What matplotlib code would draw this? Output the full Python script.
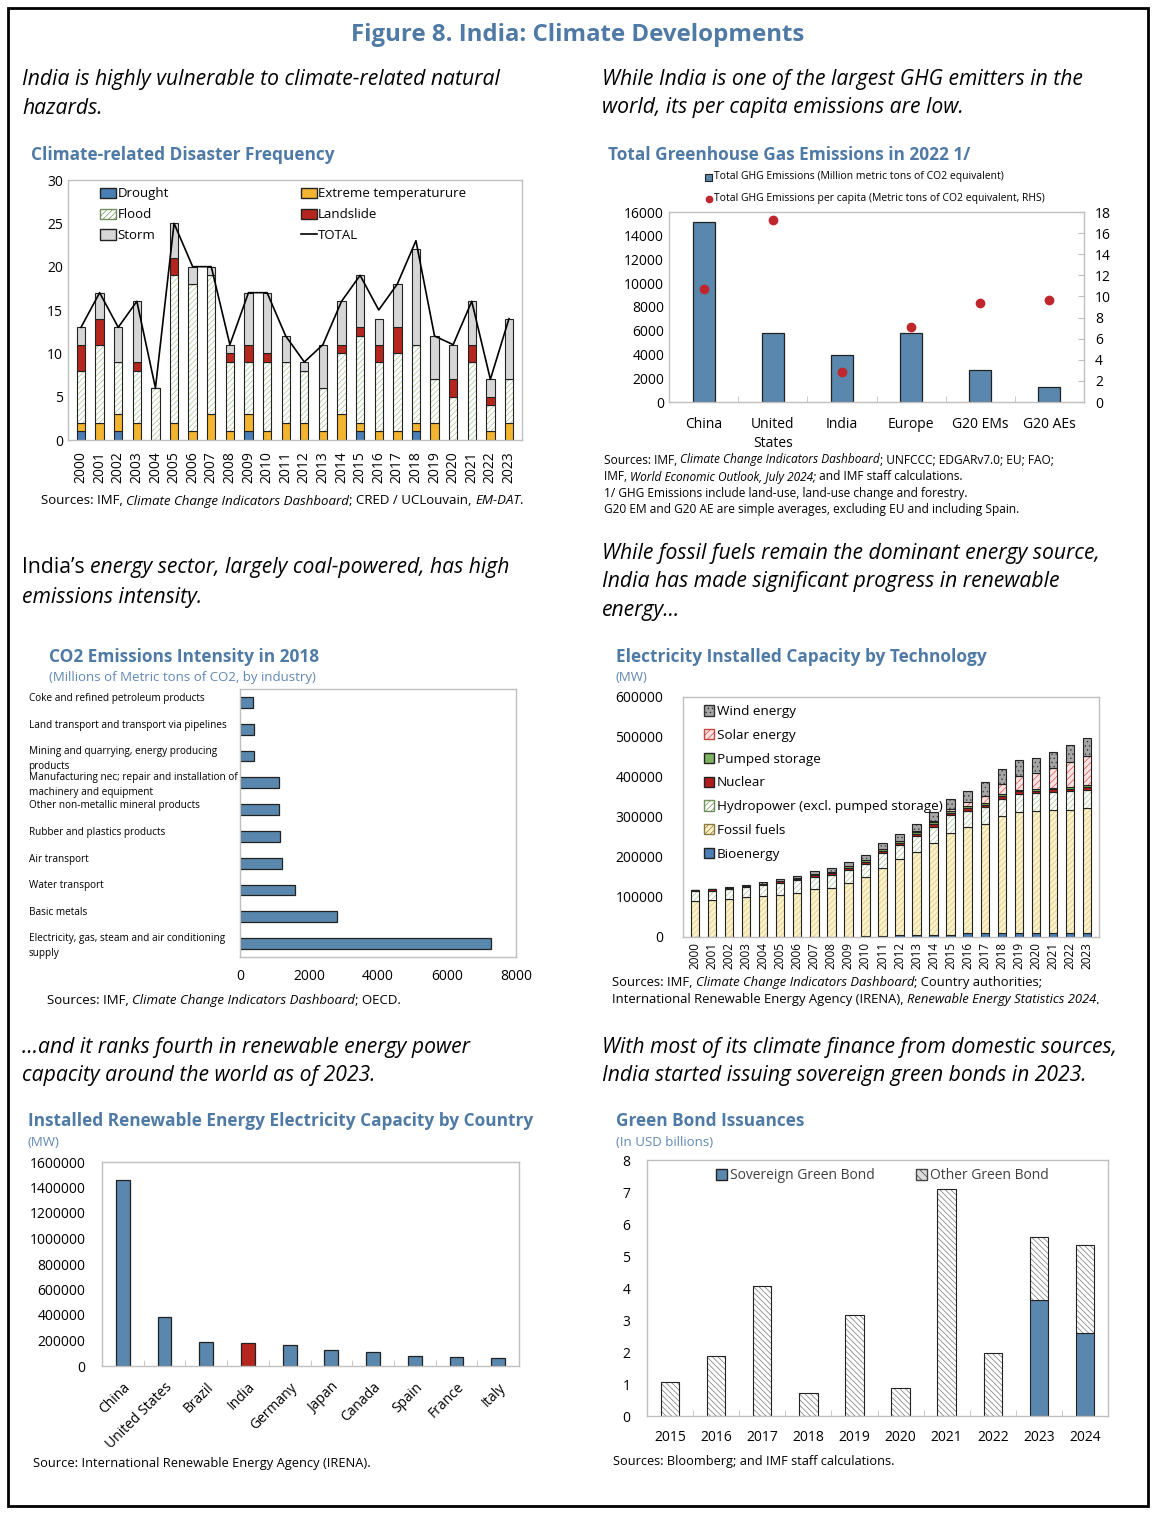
import matplotlib
matplotlib.use("Agg")
import matplotlib.pyplot as plt
from matplotlib.patches import Patch, Rectangle
from matplotlib.lines import Line2D
import numpy as np

plt.rcParams['font.family'] = ['Open Sans', 'DejaVu Sans']
plt.rcParams['hatch.linewidth'] = 0.5

# ---------------- data ----------------
years_dis = [str(y) for y in range(2000, 2024)]
drought = [1, 0, 1, 0, 0, 0, 0, 0, 0, 1, 0, 0, 0, 0, 0, 1, 0, 0, 1, 0, 0, 0, 0, 0]
ext_temp = [1, 2, 2, 2, 0, 2, 1, 3, 1, 2, 1, 2, 2, 1, 3, 1, 1, 1, 1, 2, 0, 0, 1, 2]
flood = [6, 9, 6, 6, 6, 17, 17, 16, 8, 6, 8, 7, 6, 5, 7, 10, 8, 9, 9, 5, 5, 9, 3, 5]
landslide = [3, 3, 0, 1, 0, 2, 0, 0, 1, 2, 1, 0, 0, 0, 1, 1, 2, 3, 0, 0, 2, 2, 1, 0]
storm = [2, 3, 4, 7, 0, 4, 2, 1, 1, 6, 7, 3, 1, 5, 5, 6, 3, 5, 11, 5, 4, 5, 2, 7]
total_dis = [13, 17, 13, 16, 6, 25, 20, 20, 11, 17, 17, 12, 9, 11, 16, 19, 15, 18, 23, 12, 11, 16, 7, 14]

ghg_regions = ["China", "United\nStates", "India", "Europe", "G20 EMs", "G20 AEs"]
ghg_total = [15130, 5780, 3930, 5810, 2700, 1240]
ghg_pc = [10.7, 17.2, 2.8, 7.1, 9.4, 9.7]

co2_industries = ["Coke and refined petroleum products",
                  "Land transport and transport via pipelines",
                  "Mining and quarrying, energy producing\nproducts",
                  "Manufacturing nec; repair and installation of\nmachinery and equipment",
                  "Other non-metallic mineral products",
                  "Rubber and plastics products",
                  "Air transport",
                  "Water transport",
                  "Basic metals",
                  "Electricity, gas, steam and air conditioning\nsupply"]
co2_values = [366, 395, 395, 1128, 1137, 1166, 1224, 1590, 2805, 7267]

years_el = [str(y) for y in range(2000, 2024)]
bioenergy = [300, 300, 300, 300, 300, 400, 500, 600, 700, 900, 2000, 3000, 4000, 4000, 5000, 5500,
             9000, 9500, 10000, 10000, 10500, 10500, 10500, 10800]
fossil = [89700, 92700, 95700, 98700, 101700, 104600, 109500, 118400, 121300, 135100, 148000, 170000,
          190000, 209000, 231000, 255500, 265000, 272500, 292000, 302000, 304500, 306500, 307500, 312200]
hydro = [24000, 23000, 24000, 25000, 27000, 31000, 32000, 32000, 33000, 32000, 33000, 37000,
         36000, 39000, 40000, 43000, 41000, 42000, 43000, 45000, 44000, 45000, 46000, 45000]
nuclear = [2900, 2900, 2900, 2900, 3300, 3600, 3900, 3900, 3900, 4100, 4800, 4800,
           4800, 4800, 5800, 5800, 6800, 6800, 6800, 6800, 6800, 6800, 6800, 7500]
pumped = [500, 500, 500, 500, 1000, 1500, 1500, 3000, 3500, 4800, 4800, 4800,
          4800, 4800, 4800, 4800, 4800, 4800, 4800, 4800, 4800, 4800, 4800, 4800]
solar = [0, 0, 0, 0, 0, 0, 0, 0, 0, 0, 100, 500, 1000, 2300, 3400, 5400,
         9700, 17900, 27100, 35100, 39200, 49300, 63100, 72700]
wind = [1200, 1500, 1700, 2100, 3000, 4400, 6300, 7800, 9600, 10900, 13200, 16100,
        17400, 19000, 22500, 25100, 28700, 32800, 35600, 37700, 38800, 40400, 41900, 44700]

ren_countries = ["China", "United States", "Brazil", "India", "Germany", "Japan",
                 "Canada", "Spain", "France", "Italy"]
ren_capacity = [1456000, 384000, 191000, 178000, 165000, 128000, 107000, 76000, 68000, 63000]

bond_years = [str(y) for y in range(2015, 2025)]
sovereign = [0, 0, 0, 0, 0, 0, 0, 0, 3.63, 2.60]
other_bond = [1.06, 1.87, 4.07, 0.72, 3.17, 0.88, 7.10, 1.98, 1.96, 2.74]

# ---------------- style ----------------
W, H = 1156, 1516
BLUE = '#5a87ad'
TITLE = '#4f7aa6'
SUB = '#5f88b3'
RED = '#b5261e'
GRID = '#bfbfbf'

fig = plt.figure(figsize=(W / 100, H / 100), dpi=100)
renderer = fig.canvas.get_renderer()


def box(l, t, r, b):
    return [l / W, 1 - b / H, (r - l) / W, (b - t) / H]


def ftext(x, y, s, **kw):
    kw.setdefault('va', 'center')
    kw.setdefault('ha', 'left')
    return fig.text(x / W, 1 - y / H, s, **kw)


def rich(x, y, parts, size):
    cx = x
    for s, style in parts:
        t = ftext(cx, y, s, fontsize=size, style=style)
        cx += t.get_window_extent(renderer).width


def frame(ax):
    for sp in ax.spines.values():
        sp.set_color(GRID)
        sp.set_linewidth(1.0)
    ax.tick_params(length=0, labelsize=10)


def hbar(ax, x, h, bottom, width, face, hatch=None, hcol='k', outline='#222222'):
    if hatch:
        ax.bar(x, h, width, bottom=bottom, color=face, edgecolor=hcol, hatch=hatch, linewidth=0)
        ax.bar(x, h, width, bottom=bottom, fill=False, edgecolor=outline, linewidth=0.8)
    else:
        ax.bar(x, h, width, bottom=bottom, color=face, edgecolor=outline, linewidth=0.8)


# outer frame
fig.add_artist(Rectangle((8 / W, 1 - 1506 / H), 1140 / W, 1498 / H, transform=fig.transFigure,
                         fill=False, edgecolor='black', linewidth=2))

ftext(578, 35, "Figure 8. India: Climate Developments", ha='center', fontsize=17.3,
      fontweight='bold', color=TITLE)

# headings
HS = 15.2
ftext(22, 80, "India is highly vulnerable to climate-related natural", fontsize=HS, style='italic')
ftext(22, 108, "hazards.", fontsize=HS, style='italic')
ftext(602, 80, "While India is one of the largest GHG emitters in the", fontsize=HS, style='italic')
ftext(602, 108, "world, its per capita emissions are low.", fontsize=HS, style='italic')
rich(22, 568, [("India’s ", 'normal'), ("energy sector, largely coal-powered, has high", 'italic')], HS)
ftext(22, 597, "emissions intensity.", fontsize=HS, style='italic')
ftext(602, 553, "While fossil fuels remain the dominant energy source,", fontsize=HS, style='italic')
ftext(602, 582, "India has made significant progress in renewable", fontsize=HS, style='italic')
ftext(602, 610, "energy…", fontsize=HS, style='italic')
ftext(22, 1047, "…and it ranks fourth in renewable energy power", fontsize=HS, style='italic')
ftext(22, 1076, "capacity around the world as of 2023.", fontsize=HS, style='italic')
ftext(602, 1047, "With most of its climate finance from domestic sources,", fontsize=HS, style='italic')
ftext(602, 1076, "India started issuing sovereign green bonds in 2023.", fontsize=HS, style='italic')

TS = 12.4
ftext(31, 155, "Climate-related Disaster Frequency", fontsize=TS, fontweight='bold', color=TITLE)
ftext(608, 155, "Total Greenhouse Gas Emissions in 2022 1/", fontsize=TS, fontweight='bold', color=TITLE)
ftext(49, 657, "CO2 Emissions Intensity in 2018", fontsize=TS, fontweight='bold', color=TITLE)
ftext(49, 677, "(Millions of Metric tons of CO2, by industry)", fontsize=9.5, color=SUB)
ftext(616, 657, "Electricity Installed Capacity by Technology", fontsize=TS, fontweight='bold', color=TITLE)
ftext(616, 677, "(MW)", fontsize=9.5, color=SUB)
ftext(28, 1121, "Installed Renewable Energy Electricity Capacity by Country", fontsize=TS,
      fontweight='bold', color=TITLE)
ftext(28, 1142, "(MW)", fontsize=9.5, color=SUB)
ftext(616, 1121, "Green Bond Issuances", fontsize=TS, fontweight='bold', color=TITLE)
ftext(616, 1142, "(In USD billions)", fontsize=9.5, color=SUB)

# sources
rich(41, 501, [("Sources: IMF, ", 'normal'), ("Climate Change Indicators Dashboard", 'italic'),
               ("; CRED / UCLouvain, ", 'normal'), ("EM-DAT", 'italic'), (".", 'normal')], 9.5)
GS = 8.6
rich(604, 460, [("Sources: IMF, ", 'normal'), ("Climate Change Indicators Dashboard", 'italic'),
                ("; UNFCCC; EDGARv7.0; EU; FAO;", 'normal')], GS)
rich(604, 477, [("IMF, ", 'normal'), ("World Economic Outlook, July 2024;", 'italic'),
                (" and IMF staff calculations.", 'normal')], GS)
ftext(604, 494, "1/ GHG Emissions include land-use, land-use change and forestry.", fontsize=GS)
ftext(604, 510, "G20 EM and G20 AE are simple averages, excluding EU and including Spain.", fontsize=GS)
rich(47, 1001, [("Sources: IMF, ", 'normal'), ("Climate Change Indicators Dashboard", 'italic'),
                ("; OECD.", 'normal')], 9.5)
rich(612, 983, [("Sources: IMF, ", 'normal'), ("Climate Change Indicators Dashboard", 'italic'),
                ("; Country authorities;", 'normal')], 9.4)
rich(612, 1000, [("International Renewable Energy Agency (IRENA), ", 'normal'),
                 ("Renewable Energy Statistics 2024", 'italic'), (".", 'normal')], 9.4)
ftext(33, 1463, "Source: International Renewable Energy Agency (IRENA).", fontsize=9.25)
ftext(613, 1462, "Sources: Bloomberg; and IMF staff calculations.", fontsize=9.15)

# ---------------- panel 1: disasters ----------------
ax1 = fig.add_axes(box(68, 180, 522, 440))
frame(ax1)
x = np.arange(len(years_dis))
bw = 0.45
b = np.zeros(len(x))
hbar(ax1, x, drought, b, bw, '#4a7fb5'); b += drought
hbar(ax1, x, ext_temp, b, bw, '#f3b52f'); b += ext_temp
hbar(ax1, x, flood, b, bw, 'white', '//////', '#a9c791'); b += flood
hbar(ax1, x, landslide, b, bw, '#b5261e'); b += landslide
hbar(ax1, x, storm, b, bw, '#d6d6d6'); b += storm
ax1.plot(x, total_dis, color='black', linewidth=1.2)
ax1.set_xlim(-0.7, len(x) - 0.3)
ax1.set_ylim(0, 30)
ax1.set_yticks(range(0, 31, 5))
ax1.set_xticks(x)
ax1.set_xticklabels(years_dis, rotation=90)
ax1.tick_params(axis='x', pad=8)
h1 = [Patch(facecolor='#4a7fb5', edgecolor='#222222', label='Drought'),
      Patch(facecolor='white', edgecolor='#6f8f5a', hatch='//////', label='Flood'),
      Patch(facecolor='#d6d6d6', edgecolor='#222222', label='Storm'),
      Patch(facecolor='#f3b52f', edgecolor='#222222', label='Extreme temperaturure'),
      Patch(facecolor='#b5261e', edgecolor='#222222', label='Landslide'),
      Line2D([], [], color='black', linewidth=1.2, label='TOTAL')]
ax1.legend(handles=h1, ncol=2, loc='upper left', bbox_to_anchor=(0.055, 1.0), frameon=False,
           fontsize=9.5, handlelength=1.2, handleheight=0.8, handletextpad=0.1, labelspacing=0.6,
           columnspacing=10.0, borderaxespad=0.15)

# ---------------- panel 2: GHG ----------------
ax2 = fig.add_axes(box(669, 212, 1084, 402))
frame(ax2)
x = np.arange(len(ghg_regions))
ax2.bar(x, ghg_total, 0.32, color=BLUE, edgecolor='#222222', linewidth=0.9)
ax2.set_xlim(-0.5, len(x) - 0.5)
ax2.set_ylim(0, 16000)
ax2.set_yticks(range(0, 16001, 2000))
ax2.set_xticks(x)
ax2.set_xticklabels(ghg_regions, linespacing=1.35)
ax2.tick_params(axis='x', pad=11)
ax2.set_xticks(np.arange(len(x) - 1) + 0.5, minor=True)
ax2.tick_params(axis='x', which='minor', direction='in', length=4, color=GRID)
ax2r = ax2.twinx()
ax2r.set_position(box(669, 212, 1084, 402))
ax2r.plot(x, ghg_pc, 'o', color='#c0272d', markersize=6)
ax2r.set_ylim(0, 18)
ax2r.set_yticks(range(0, 19, 2))
for sp in ax2r.spines.values():
    sp.set_visible(False)
ax2r.tick_params(axis='y', direction='in', length=4, color=GRID, labelsize=10, pad=8)
fig.add_artist(Rectangle((705 / W, 1 - 181 / H), 7 / W, 7 / H, transform=fig.transFigure,
                         facecolor=BLUE, edgecolor='#222222', linewidth=0.8))
ftext(714, 177, "Total GHG Emissions (Million metric tons of CO2 equivalent)", fontsize=7.5)
fig.add_artist(Line2D([709 / W], [1 - 199 / H], marker='o', color='#c0272d', markersize=4.5,
                      transform=fig.transFigure))
ftext(714, 199, "Total GHG Emissions per capita (Metric tons of CO2 equivalent, RHS)", fontsize=7.5)

# ---------------- panel 3: CO2 intensity ----------------
ax3 = fig.add_axes(box(240, 689, 516, 957))
frame(ax3)
y = np.arange(len(co2_industries))
ax3.barh(y, co2_values, 0.4, color=BLUE, edgecolor='#222222', linewidth=0.9)
ax3.set_ylim(len(y) - 0.5, -0.5)
ax3.set_xlim(0, 8000)
ax3.set_xticks(range(0, 8001, 2000))
ax3.tick_params(axis='x', pad=9)
ax3.set_yticks([])
for i, lab in enumerate(co2_industries):
    off = 0.1 if "\n" in lab else -0.15
    ax3.text(-0.766, i + off, lab, transform=ax3.get_yaxis_transform(), fontsize=7.2,
             ha='left', va='center', linespacing=1.5)

# ---------------- panel 4: electricity ----------------
ax4 = fig.add_axes(box(683, 697, 1099, 937))
frame(ax4)
x = np.arange(len(years_el))
bw = 0.5
b = np.zeros(len(x))
hbar(ax4, x, bioenergy, b, bw, '#4a7fb5'); b += bioenergy
hbar(ax4, x, fossil, b, bw, '#fdf1c8', '//////', '#d9c98a'); b += fossil
hbar(ax4, x, hydro, b, bw, 'white', '//////', '#a9c791'); b += hydro
hbar(ax4, x, nuclear, b, bw, '#b01c1c'); b += nuclear
hbar(ax4, x, pumped, b, bw, '#7fb25f'); b += pumped
hbar(ax4, x, solar, b, bw, '#fbe3e3', '/////', '#d9534f'); b += solar
hbar(ax4, x, wind, b, bw, '#a6a6a6', '....', '#404040'); b += wind
ax4.set_xlim(-0.7, len(x) - 0.3)
ax4.set_ylim(0, 600000)
ax4.set_yticks(range(0, 600001, 100000))
ax4.set_xticks(x)
ax4.set_xticklabels(years_el, rotation=90, fontsize=8.5)
ax4.tick_params(axis='y', pad=14)
h4 = [Patch(facecolor='#a6a6a6', edgecolor='#303030', hatch='....', label='Wind energy'),
      Patch(facecolor='#fbe3e3', edgecolor='#c9453f', hatch='/////', label='Solar energy'),
      Patch(facecolor='#7fb25f', edgecolor='#222222', label='Pumped storage'),
      Patch(facecolor='#b01c1c', edgecolor='#222222', label='Nuclear'),
      Patch(facecolor='white', edgecolor='#6f8f5a', hatch='//////', label='Hydropower (excl. pumped storage)'),
      Patch(facecolor='#fdf1c8', edgecolor='#8a7a40', hatch='//////', label='Fossil fuels'),
      Patch(facecolor='#4a7fb5', edgecolor='#222222', label='Bioenergy')]
ax4.legend(handles=h4, loc='upper left', bbox_to_anchor=(0.03, 1.0), frameon=False, fontsize=9.7,
           handlelength=0.8, handleheight=0.8, handletextpad=0.2, labelspacing=0.8, borderaxespad=0.2)

# ---------------- panel 5: renewable by country ----------------
ax5 = fig.add_axes(box(102, 1162, 519, 1366))
frame(ax5)
x = np.arange(len(ren_countries))
cols = [RED if c == "India" else BLUE for c in ren_countries]
ax5.bar(x, ren_capacity, 0.33, color=cols, edgecolor='#222222', linewidth=0.9)
ax5.set_xlim(-0.5, len(x) - 0.5)
ax5.set_ylim(0, 1600000)
ax5.set_yticks(range(0, 1600001, 200000))
ax5.ticklabel_format(axis='y', style='plain', useOffset=False)
ax5.set_xticks(x)
ax5.set_xticklabels(ren_countries, rotation=45, ha='right', rotation_mode='anchor')
ax5.tick_params(axis='x', pad=10)
ax5.tick_params(axis='y', pad=12)
ax5.set_xticks(np.arange(len(x) - 1) + 0.5, minor=True)
ax5.tick_params(axis='x', which='minor', direction='in', length=4, color=GRID)

# ---------------- panel 6: green bonds ----------------
ax6 = fig.add_axes(box(647, 1160, 1108, 1416))
frame(ax6)
x = np.arange(len(bond_years))
hbar(ax6, x, sovereign, np.zeros(len(x)), 0.4, BLUE)
hbar(ax6, x, other_bond, np.array(sovereign), 0.4, 'white', '\\\\\\\\\\\\', '#777777')
ax6.set_xlim(-0.5, len(x) - 0.5)
ax6.set_ylim(0, 8)
ax6.set_yticks(range(0, 9))
ax6.set_xticks(x)
ax6.set_xticklabels(bond_years)
ax6.tick_params(axis='x', pad=10)
ax6.tick_params(axis='y', pad=12)
ax6.set_xticks(np.arange(len(x) - 1) + 0.5, minor=True)
ax6.tick_params(axis='x', which='minor', direction='in', length=4, color=GRID)
h6 = [Patch(facecolor=BLUE, edgecolor='#222222', label='Sovereign Green Bond'),
      Patch(facecolor='#dddddd', edgecolor='#444444', hatch='\\\\\\\\', label='Other Green Bond')]
ax6.legend(handles=h6, ncol=2, loc='upper center', bbox_to_anchor=(0.51, 1.0), frameon=False,
           fontsize=10, handlelength=0.8, handleheight=0.8, handletextpad=0.2, columnspacing=3.0,
           borderaxespad=0.2, labelcolor='#404040')

fig.savefig("out.png", dpi=100)
